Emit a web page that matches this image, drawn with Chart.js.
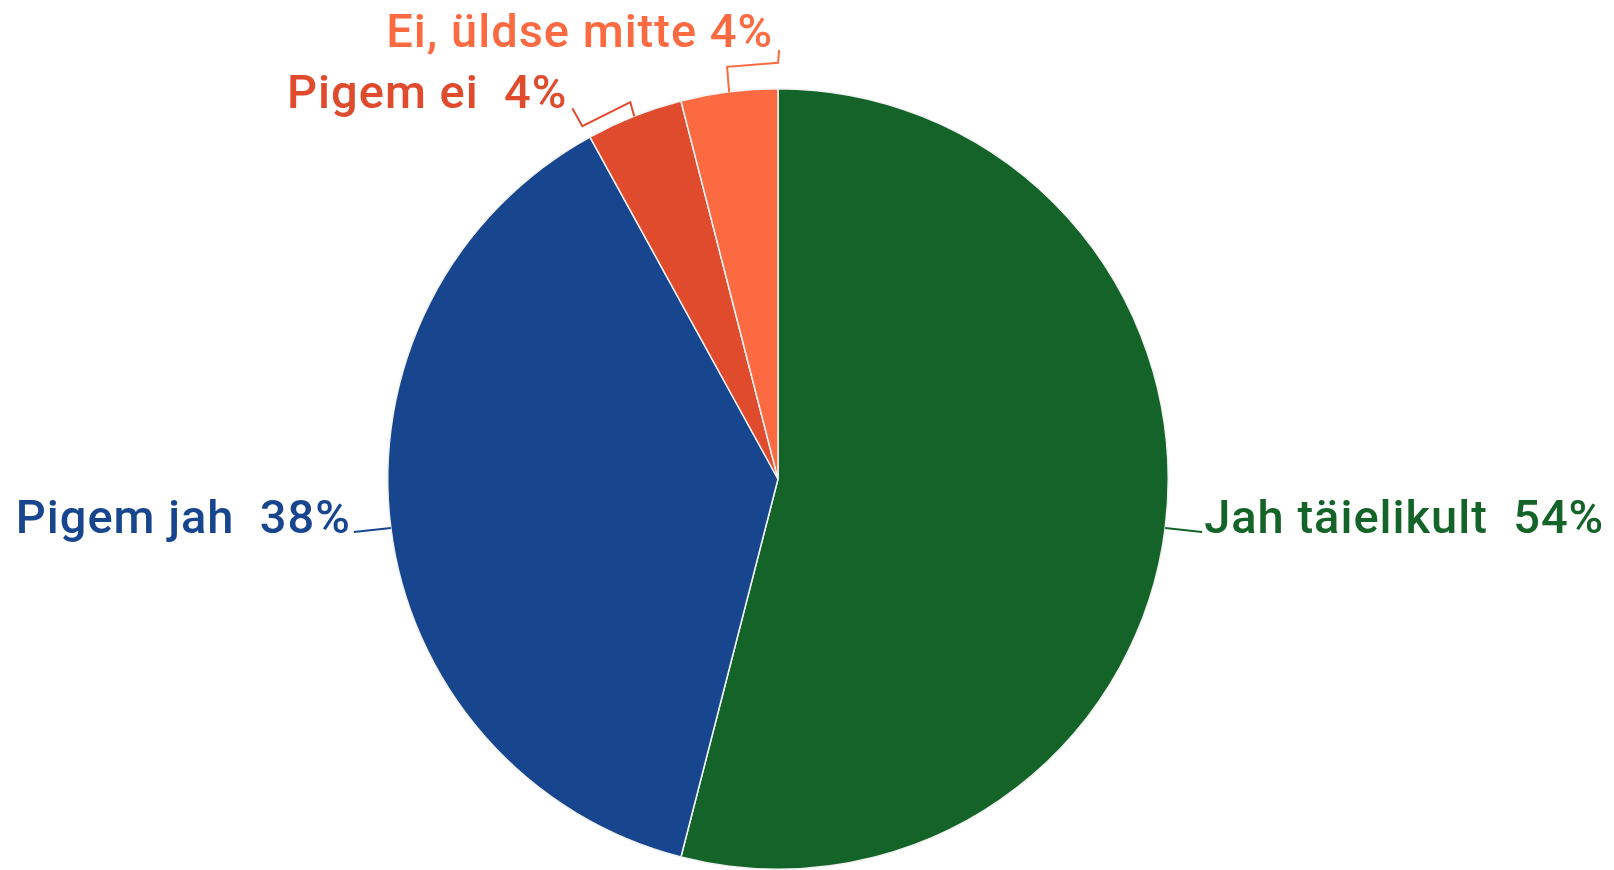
<!DOCTYPE html>
<html>
<head>
<meta charset="utf-8">
<script src="https://cdn.jsdelivr.net/npm/chart.js@4"></script>
<style>
  html, body { margin: 0; padding: 0; background: #ffffff; overflow: hidden; }
  #wrap { width: 1614px; height: 870px; position: relative; }
</style>
</head>
<body>
<div id="wrap"><canvas id="chartPie"></canvas></div>
<script>
// andmed (loetud pildilt)
const silt = ["Jah täielikult", "Pigem jah", "Pigem ei", "Ei, üldse mitte"];
const protsent = [54, 38, 4, 4];
const vahe = ["  ", "  ", "  ", " "];
const varvid = ["#146328", "#17468f", "#e04b2e", "#fc6a41"];

// sildi paigutus serva punkti suhtes
const sildiKuju = [
    { dx: 39, dy: 5, align: "left", joon: [[37, 4]] },
    { dx: -40, dy: 5, align: "right", joon: [[-37, 4]] },
    { dx: -67, dy: -8, align: "right", joon: [[-1, -3], [-4, -14], [-52, 10], [-62, -8]] },
    { dx: 44, dy: -45, align: "right", joon: [[-2, -25], [49, -29], [50, -42]] }
];

const sildid = {
    id: "sildid",
    afterDraw(chart) {
        const ctx = chart.ctx;
        const meta = chart.getDatasetMeta(0);
        ctx.save();
        ctx.font = "500 47px Roboto";
        ctx.letterSpacing = "1px";
        ctx.textBaseline = "alphabetic";
        meta.data.forEach((arc, i) => {
            const p = arc.getProps(["x", "y", "startAngle", "endAngle", "outerRadius"], true);
            const mid = (p.startAngle + p.endAngle) / 2;
            const ex = p.x + Math.cos(mid) * p.outerRadius;
            const ey = p.y + Math.sin(mid) * p.outerRadius;
            const k = sildiKuju[i];
            ctx.strokeStyle = varvid[i];
            ctx.lineWidth = 2;
            ctx.beginPath();
            ctx.moveTo(ex, ey);
            k.joon.forEach(([jx, jy]) => ctx.lineTo(ex + jx, ey + jy));
            ctx.stroke();
            ctx.fillStyle = varvid[i];
            ctx.textAlign = k.align;
            ctx.fillText(silt[i] + vahe[i] + protsent[i] + "%", ex + k.dx, ey + k.dy);
        });
        ctx.restore();
    }
};

new Chart(document.getElementById("chartPie"), {
    type: "pie",
    data: {
        labels: silt,
        datasets: [{
            data: protsent,
            backgroundColor: varvid,
            borderColor: "#f2f2f2",
            borderWidth: 1.5
        }]
    },
    options: {
        responsive: true,
        maintainAspectRatio: false,
        animation: false,
        layout: { padding: { top: 88, bottom: 0, left: 387, right: 445 } },
        plugins: {
            legend: { display: false },
            tooltip: { enabled: false }
        }
    },
    plugins: [sildid]
});
</script>
</body>
</html>
